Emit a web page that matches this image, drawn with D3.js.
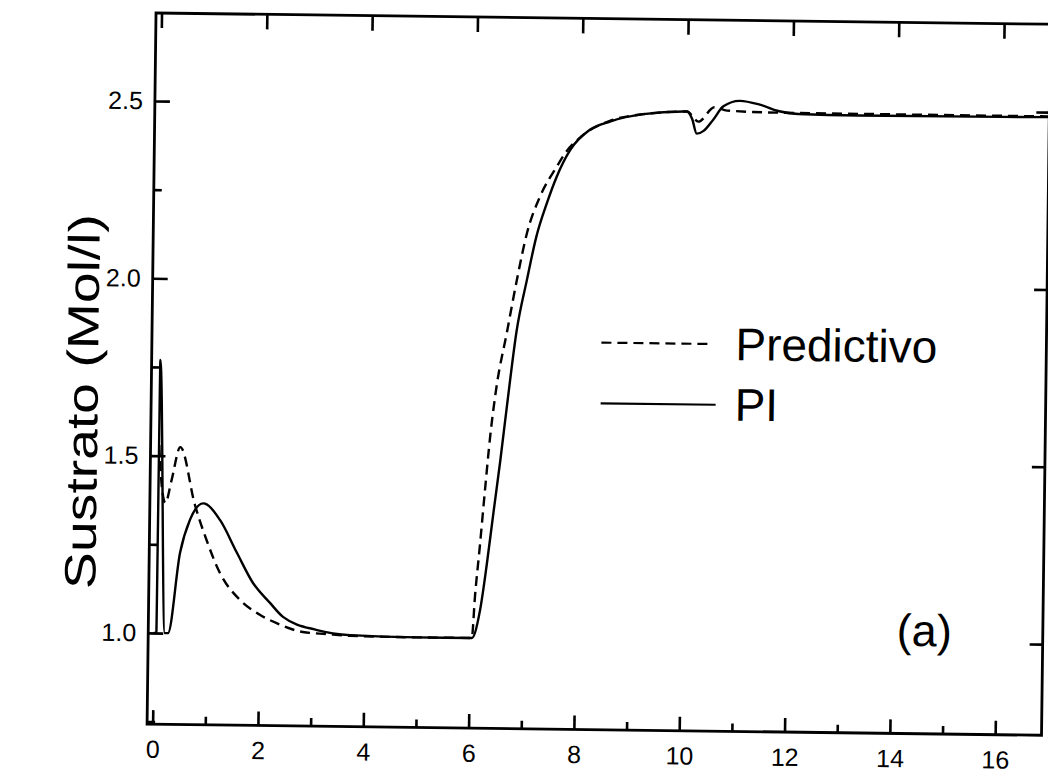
<!DOCTYPE html>
<html>
<head>
<meta charset="utf-8">
<script src="https://cdn.jsdelivr.net/npm/d3@7"></script>
<style>
  body { margin: 0; background: #fff; }
  text { font-family: "Liberation Sans", Arial, sans-serif; fill: #000; }
</style>
</head>
<body>
<svg id="chart" width="1048" height="776"></svg>
<script>
// ---- data ----
const piT = [0, 0.05, 0.06, 0.21, 0.27, 0.48, 0.66, 0.91, 1.23, 1.56, 1.87, 2.20, 2.45, 3.10, 3.73, 5.0, 6.04, 6.19, 6.31, 6.42, 6.54, 6.65, 6.82, 7.0, 7.17, 7.36, 7.54, 7.79, 8.16, 8.54, 9.17, 10.0, 10.1, 10.19, 10.32, 10.5, 10.69, 11.0, 11.38, 11.75, 12.11, 13.25, 17];
const piV = [1.0, 1.0, 1.77, 1.0, 1.0, 1.227, 1.32, 1.367, 1.321, 1.229, 1.145, 1.089, 1.05, 1.014, 1.001, 0.997, 0.997, 1.076, 1.209, 1.35, 1.50, 1.65, 1.867, 2.008, 2.131, 2.225, 2.30, 2.376, 2.434, 2.458, 2.48, 2.489, 2.468, 2.427, 2.435, 2.467, 2.505, 2.521, 2.511, 2.493, 2.486, 2.484, 2.486];

const predT = [0.06, 0.10, 0.19, 0.30, 0.46, 0.75, 0.98, 1.24, 1.63, 2.01, 2.33, 2.83, 3.29, 3.73, 5.0, 6.04, 6.09, 6.17, 6.26, 6.34, 6.45, 6.63, 6.81, 6.99, 7.23, 7.54, 7.71, 8.0, 8.54, 9.17, 10.0, 10.22, 10.52, 10.76, 11.75, 17];
const predV = [1.53, 1.44, 1.367, 1.43, 1.525, 1.363, 1.264, 1.172, 1.096, 1.055, 1.032, 1.008, 1.003, 0.999, 0.997, 0.997, 1.114, 1.255, 1.424, 1.565, 1.707, 1.857, 2.008, 2.14, 2.244, 2.329, 2.37, 2.415, 2.46, 2.48, 2.489, 2.461, 2.502, 2.493, 2.489, 2.488];

const xMajorTicks = [0, 2, 4, 6, 8, 10, 12, 14, 16];
const xMinorTicks = [1, 3, 5, 7, 9, 11, 13, 15];
const yMajorTicks = [1.0, 1.5, 2.0, 2.5];
const yMinorTicks = [0.75, 1.25, 1.75, 2.25];
const seriesNames = ["Predictivo", "PI"];
const yTitle = "Sustrato (Mol/l)";
const panelLabel = "(a)";

// ---- layout ----
const svg = d3.select("#chart");
const L = 151.5, R = 1046, T = 18.6, B = 729.7;
const x = d3.scaleLinear().domain([-0.105, 16.88]).range([L, R]);
const y = d3.scaleLinear().domain([0.743, 2.748]).range([B, T]);

// the scanned figure is slightly rotated
const g = svg.append("g").attr("transform", "rotate(0.72,600,375)");

const fmt = d3.format(".1f");

// bottom axis
g.append("g").attr("transform", `translate(0,${B})`)
  .call(d3.axisBottom(x).tickValues(xMajorTicks).tickSize(-14).tickSizeOuter(0).tickPadding(16).tickFormat(d3.format("d")));
g.append("g").attr("transform", `translate(0,${B})`)
  .call(d3.axisBottom(x).tickValues(xMinorTicks).tickSize(-8).tickSizeOuter(0).tickFormat(""));
// top axis
g.append("g").attr("transform", `translate(0,${T})`)
  .call(d3.axisTop(x).tickValues(xMajorTicks).tickSize(-15).tickSizeOuter(0).tickFormat(""));
// left axis
g.append("g").attr("transform", `translate(${L},0)`)
  .call(d3.axisLeft(y).tickValues(yMajorTicks).tickSize(-15).tickSizeOuter(0).tickPadding(12).tickFormat(fmt));
g.append("g").attr("transform", `translate(${L},0)`)
  .call(d3.axisLeft(y).tickValues(yMinorTicks).tickSize(-8).tickSizeOuter(0).tickFormat(""));
// right axis
g.append("g").attr("transform", `translate(${R},0)`)
  .call(d3.axisRight(y).tickValues(yMajorTicks).tickSize(-13).tickSizeOuter(0).tickFormat(""));

g.selectAll(".domain").remove();
g.selectAll(".tick line").attr("stroke", "#000").attr("stroke-width", 2.6);
g.selectAll(".tick text").attr("font-size", 25).attr("font-family", "Liberation Sans, Arial, sans-serif").attr("fill", "#000");

// frame
g.append("rect").attr("x", L).attr("y", T).attr("width", R - L).attr("height", B - T)
  .attr("fill", "none").attr("stroke", "#000").attr("stroke-width", 2.8);

// lines
const line = d3.line().x(d => x(d[0])).y(d => y(d[1])).curve(d3.curveMonotoneX);
const piData = piT.map((t, i) => [t, piV[i]]);
const predData = predT.map((t, i) => [t, predV[i]]);

g.append("path").datum(predData).attr("d", line)
  .attr("fill", "none").attr("stroke", "#000").attr("stroke-width", 2.4)
  .attr("stroke-dasharray", "10,6");
g.append("path").datum(piData).attr("d", line)
  .attr("fill", "none").attr("stroke", "#000").attr("stroke-width", 2.4);

// legend
const leg = g.append("g");
leg.append("line").attr("x1", 601).attr("x2", 712).attr("y1", 342.6).attr("y2", 342.6)
  .attr("stroke", "#000").attr("stroke-width", 2.2).attr("stroke-dasharray", "10,6");
leg.append("line").attr("x1", 601).attr("x2", 716).attr("y1", 403.3).attr("y2", 403.3)
  .attr("stroke", "#000").attr("stroke-width", 2.2);
leg.append("text").attr("x", 735).attr("y", 358.5).attr("font-size", 46).text(seriesNames[0]);
leg.append("text").attr("x", 735).attr("y", 419).attr("font-size", 46).text(seriesNames[1]);

// panel label
g.append("text").attr("x", 900).attr("y", 642).attr("font-size", 45).text(panelLabel);

// y title
g.append("text").attr("transform", "translate(98,408) rotate(-90)")
  .attr("text-anchor", "middle").attr("font-size", 44)
  .attr("textLength", 375).attr("lengthAdjust", "spacingAndGlyphs").text(yTitle);
</script>
</body>
</html>
